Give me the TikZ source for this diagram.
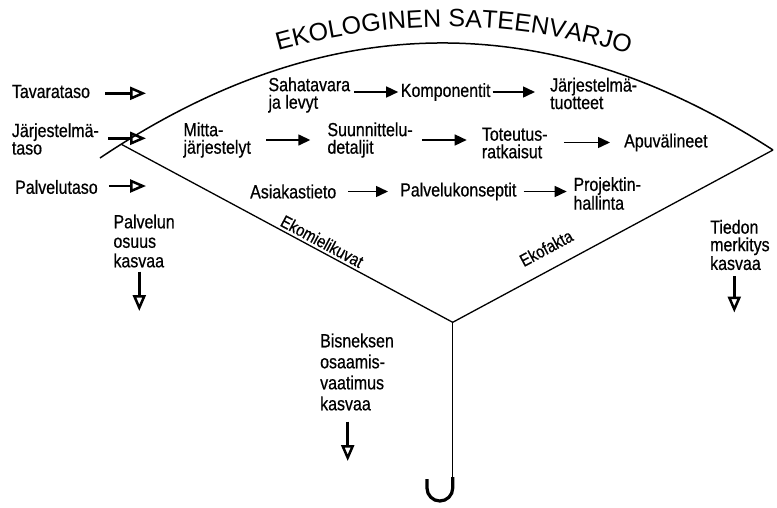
\documentclass[tikz,border=0pt]{standalone}
\usepackage{fontspec}
\setmainfont[FakeStretch=0.84,FakeBold=0.6]{Liberation Sans}
\newfontfamily\titlefam{Liberation Sans}
\usetikzlibrary{arrows.meta,decorations.text}
\begin{document}
\begin{tikzpicture}[x=1pt,y=-1pt,
  lbl/.style={font=\fontsize{19}{17.5}\selectfont, align=left, inner sep=0pt, anchor=west},
  ribtext/.style={font=\fontsize{17.5}{17.5}\selectfont, inner sep=0pt},
  flow/.style={line width=1.5pt, -{Triangle[length=12pt,width=11pt]}},
  hollowarrow/.style={line width=2.5pt, -{Triangle[open,length=16pt,width=13pt]}},
  canopy/.style={line width=1.5pt},
  rib/.style={line width=1.3pt},
  umbhook/.style={line width=3.2pt, rounded corners=12.85pt}]
\useasboundingbox (0,0) rectangle (777,507);
% umbrella frame
\coordinate (L) at (100,158);
\coordinate (R) at (773,150);
\coordinate (lr) at (121.7,144.5);
\coordinate (hub) at (452.7,322.3);
\coordinate (hk) at (452.7,477);
\draw[canopy] (L) .. controls (324.3,7.3) and (548.7,4.7) .. (R);
\path[decorate, decoration={text along path, text align=center,
   text={|\titlefam\fontsize{25}{25}\selectfont|EKOLOGINEN SATEENVARJO}}]
   (266,54) .. controls (392,16.7) and (517,18) .. (641,58);
\draw[rib] (lr) -- node[ribtext, pos=0.592, sloped, above=2.5pt] (ekom) {Ekomielikuvat} (hub);
\draw[rib] (hub) -- node[ribtext, pos=0.323, sloped, above=14pt] (ekof) {Ekofakta} (R);
\draw[rib] (hub) -- (hk);
\draw[umbhook] (hk) -- ++(0,24) -- ++(-25.7,0) -- ++(0,-22);
% left labels
\node[lbl] (tava) at (11.7,91.5) {Tavarataso};
\node[lbl] (jtaso) at (11.7,139) {Järjestelmä-\\taso};
\node[lbl] (ptaso) at (15,187) {Palvelutaso};
\coordinate (ta1) at (146,93.3);
\coordinate (ta2) at (146,138.3);
\coordinate (ta3) at (146,186);
\draw[hollowarrow, shorten <=15pt] (tava.east |- ta1) -- (ta1);
\draw[hollowarrow, shorten <=9pt] (jtaso.east |- ta2) -- (ta2);
\draw[hollowarrow, shorten <=11pt] (ptaso.east |- ta3) -- (ta3);
% growth labels
\node[lbl, font=\fontsize{19}{19.5}\selectfont] (palos) at (113.3,241) {Palvelun\\osuus\\kasvaa};
\coordinate (da1) at (139.3,311);
\draw[hollowarrow, shorten <=4pt] (palos.south -| da1) -- (da1);
\node[lbl, font=\fontsize{19}{17.5}\selectfont] (tied) at (710,245) {Tiedon\\merkitys\\kasvaa};
\coordinate (da2) at (734.3,312.5);
\draw[hollowarrow, shorten <=6pt] (tied.south -| da2) -- (da2);
\node[lbl, font=\fontsize{19}{21}\selectfont] (bisn) at (320,372) {Bisneksen\\osaamis-\\vaatimus\\kasvaa};
\coordinate (da3) at (347.7,461);
\draw[hollowarrow, shorten <=11pt] (bisn.south -| da3) -- (da3);
% row 1
\node[lbl] (saha) at (268.3,95) {Sahatavara\\ja levyt};
\node[lbl] (komp) at (400.7,92) {Komponentit};
\node[lbl] (jtuot) at (550,93.5) {Järjestelmä-\\tuotteet};
\draw[flow, shorten <=4pt, shorten >=2.5pt] (saha.east |- komp.west) -- (komp.west);
\draw[flow, shorten <=2pt, shorten >=15pt] (komp.east) -- (jtuot.west |- komp.east);
% row 2
\node[lbl] (mitta) at (183.3,140) {Mitta-\\järjestelyt};
\node[lbl] (suun) at (327.3,140) {Suunnittelu-\\detaljit};
\node[lbl] (tot) at (481.7,143) {Toteutus-\\ratkaisut};
\node[lbl] (apuv) at (624,142.5) {Apuvälineet};
\draw[flow, shorten <=15pt, shorten >=17pt] (mitta.east |- suun.west) -- (suun.west);
\draw[flow, shorten <=9pt, shorten >=15pt] (suun.east) -- (tot.west |- suun.east);
\draw[flow, shorten <=16pt, shorten >=14pt] (tot.east |- apuv.west) -- (apuv.west);
% row 3
\node[lbl] (asia) at (250,191.5) {Asiakastieto};
\node[lbl] (pkons) at (400,191.5) {Palvelukonseptit};
\node[lbl] (proj) at (573.3,193.5) {Projektin-\\hallinta};
\draw[flow, shorten <=12pt, shorten >=12pt] (asia.east) -- (pkons.west);
\draw[flow, shorten <=7pt, shorten >=6.6pt] (pkons.east) -- (proj.west |- pkons.east);
\end{tikzpicture}
\end{document}
